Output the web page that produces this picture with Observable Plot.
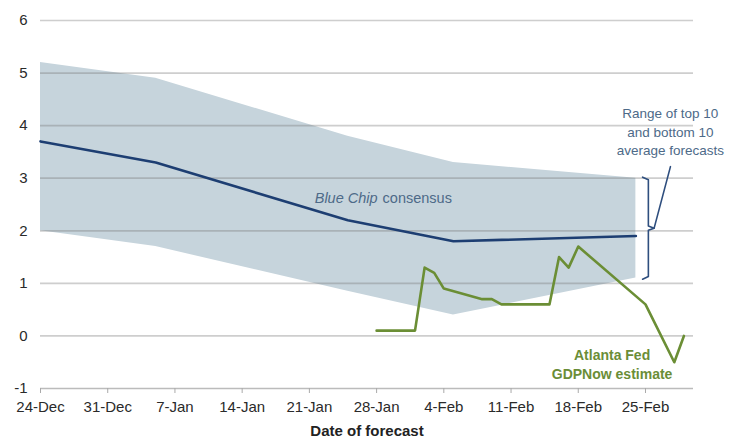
<!DOCTYPE html>
<html><head><meta charset="utf-8">
<script src="https://cdn.jsdelivr.net/npm/d3@7"></script>
<script src="https://cdn.jsdelivr.net/npm/@observablehq/plot@0.6"></script>
<style>
body{margin:0;background:#fff;}
#chart svg{font-family:"Liberation Sans",Arial,sans-serif;}
g[aria-label="x-axis label"] text{font-weight:bold;fill:#222;}
</style></head><body><div id="chart"></div>
<script>
// Range of top 10 / bottom 10 average forecasts and Blue Chip consensus
const bandDates = ["2014-12-24","2015-01-05","2015-01-25","2015-02-05","2015-02-24"];
const bandUpper = [5.2, 4.9, 3.8, 3.3, 3.0];
const bandLower = [2.0, 1.7, 0.85, 0.4, 1.1];
const consensus = [3.7, 3.3, 2.2, 1.8, 1.9];
// Atlanta Fed GDPNow estimate
const gdpNowDates = ["2015-01-28","2015-02-01","2015-02-02","2015-02-03","2015-02-04","2015-02-08","2015-02-09","2015-02-10","2015-02-15","2015-02-16","2015-02-17","2015-02-18","2015-02-25","2015-02-28","2015-03-01"];
const gdpNow = [0.1, 0.1, 1.3, 1.2, 0.9, 0.7, 0.7, 0.6, 0.6, 1.5, 1.3, 1.7, 0.6, -0.5, 0.0];
// Axes
const xTickDates = ["2014-12-24","2014-12-31","2015-01-07","2015-01-14","2015-01-21","2015-01-28","2015-02-04","2015-02-11","2015-02-18","2015-02-25"];
const xDomain = ["2014-12-24","2015-03-02"];
const yTicks = [-1, 0, 1, 2, 3, 4, 5, 6];

const parse = d3.utcParse("%Y-%m-%d");
const band = bandDates.map((d, i) => ({date: parse(d), hi: bandUpper[i], lo: bandLower[i], mid: consensus[i]}));
const gdp = gdpNowDates.map((d, i) => ({date: parse(d), v: gdpNow[i]}));

const day = 864e5;
const lastBand = band[band.length - 1];
const bx = t => new Date(+lastBand.date + t * day);
const bTop = lastBand.hi, bBot = lastBand.lo, bMid = (bTop + bBot) / 2;
const bracket = [
  {x: bx(0.7), y: bTop + 0.02}, {x: bx(1.3), y: bTop - 0.03}, {x: bx(1.3), y: bMid + 0.04},
  {x: bx(1.9), y: bMid}, {x: bx(1.3), y: bMid - 0.04}, {x: bx(1.3), y: bBot + 0.03}, {x: bx(0.7), y: bBot - 0.02}
];
const leader = [{x: bx(1.9), y: bMid}, {x: bx(3.6), y: bTop + 0.22}];

const blueText = "#4d6a88";
const plot = Plot.plot({
  width: 735, height: 439,
  marginTop: 20, marginBottom: 51, marginLeft: 40, marginRight: 42,
  style: {fontSize: "15px", fontFamily: "'Liberation Sans', Arial, sans-serif", color: "#2a2a2a", background: "#fff", overflow: "visible"},
  x: {type: "utc", domain: xDomain.map(parse)},
  y: {domain: [-1, 6]},
  marks: [
    Plot.areaY(band, {x: "date", y1: "lo", y2: "hi", fill: "#c6d4dc"}),
    Plot.ruleY(yTicks.filter(d => d >= 0), {stroke: "#777", strokeOpacity: 0.36, strokeWidth: 1.7}),
    Plot.ruleY([-1], {stroke: "#bbb", strokeWidth: 1.7}),
    Plot.line(band, {x: "date", y: "mid", stroke: "#1d3e72", strokeWidth: 2.6}),
    Plot.line(gdp, {x: "date", y: "v", stroke: "#6b8e35", strokeWidth: 2.6}),
    Plot.line(bracket, {x: "x", y: "y", stroke: "#2e4e7e", strokeWidth: 1.6}),
    Plot.line(leader, {x: "x", y: "y", stroke: "#2e4e7e", strokeWidth: 1.6}),
    Plot.axisX({ticks: xTickDates.map(parse), tickFormat: d3.utcFormat("%-d-%b"), tickSize: 5, tickPadding: 8, stroke: "#aaa", fill: "#2a2a2a", fontSize: 15,
      label: "Date of forecast", labelAnchor: "center", labelArrow: "none", labelOffset: 47}),
    Plot.axisY({ticks: yTicks, tickSize: 0, tickPadding: 13, tickFormat: d => String(d), label: null, fill: "#2a2a2a", fontSize: 15}),
    Plot.text([{x: parse("2015-01-28"), y: 2.62}], {x: "x", y: "y", text: () => "Blue Chip", fontStyle: "italic", textAnchor: "end", dx: 1, fill: blueText, fontSize: 14.5}),
    Plot.text([{x: parse("2015-01-28"), y: 2.62}], {x: "x", y: "y", text: () => "consensus", textAnchor: "start", dx: 6, fill: blueText, fontSize: 14.5}),
    Plot.text([{x: parse("2015-02-21"), y: -0.52}], {x: "x", y: "y", text: () => "Atlanta Fed\nGDPNow estimate", fontWeight: "bold", fill: "#6a8d37", fontSize: 14, dx: 5, lineHeight: 1.35}),
    Plot.text([{x: parse("2015-02-28"), y: 3.9}], {x: "x", y: "y", text: () => "Range of top 10\nand bottom 10\naverage forecasts", fill: blueText, fontSize: 13.5, dx: -4, lineHeight: 1.38})
  ]
});
document.getElementById("chart").append(plot);
</script></body></html>
